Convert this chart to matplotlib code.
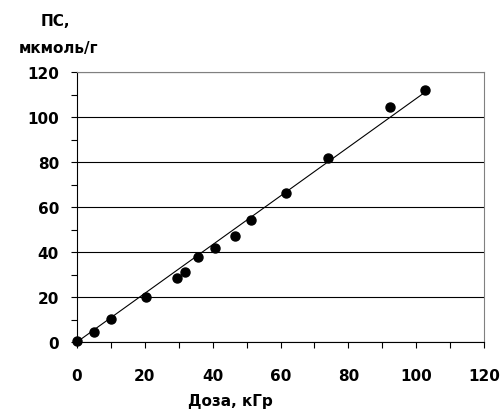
import numpy as np
import matplotlib
matplotlib.use("Agg")
import matplotlib.pyplot as plt
from matplotlib.ticker import MultipleLocator

plt.rcParams['font.family'] = ['DejaVu Sans']

# доза, кГр / ПС, мкмоль/г
dose = [0, 5, 10, 20.3, 29.4, 31.8, 35.8, 40.8, 46.5, 51.4, 61.7, 73.9, 92.4, 102.7]
ps = [0.3, 4.5, 10.2, 19.8, 28.4, 31, 37.9, 41.8, 47.1, 54.1, 66.3, 81.9, 104.4, 112.1]

fig = plt.figure(figsize=(5.04, 4.14), dpi=100)
ax = fig.add_axes([0.1528, 0.1715, 0.8075, 0.652])

# линия регрессии через начало координат
x = np.array(dose)
y = np.array(ps)
k = (x * y).sum() / (x * x).sum()
xl = np.array([0, x.max()])
ax.plot(xl, k * xl, color="black", lw=0.8, zorder=3)
ax.plot(dose, ps, "o", color="black", ms=6.5, zorder=4, clip_on=False)

ax.set_xlim(0, 120)
ax.set_ylim(0, 120)
ax.xaxis.set_major_locator(MultipleLocator(20))
ax.xaxis.set_minor_locator(MultipleLocator(10))
ax.yaxis.set_major_locator(MultipleLocator(20))
ax.yaxis.set_minor_locator(MultipleLocator(10))
ax.grid(axis="y", which="major", color="black", lw=0.8)
ax.set_axisbelow(True)

ax.tick_params(axis="both", which="both", direction="out", length=4, width=0.8, color="black")
ax.tick_params(axis="both", which="major", labelsize=11)
ax.tick_params(axis="x", which="major", pad=14.5)
ax.tick_params(axis="y", which="major", pad=9)
for lab in ax.get_xticklabels() + ax.get_yticklabels():
    lab.set_fontweight("bold")

ax.spines["left"].set_color("black")
ax.spines["bottom"].set_color("black")
ax.spines["top"].set_color("#808080")
ax.spines["right"].set_color("#808080")
for s in ax.spines.values():
    s.set_linewidth(0.8)

fig.text(0.109, 0.947, "ПС,", ha="center", va="center", fontsize=11, fontweight="bold")
fig.text(0.117, 0.882, "мкмоль/г", ha="center", va="center", fontsize=11, fontweight="bold")
fig.text(0.457, 0.031, "Доза, кГр", ha="center", va="center", fontsize=11, fontweight="bold")

fig.savefig("out.png", dpi=100)
